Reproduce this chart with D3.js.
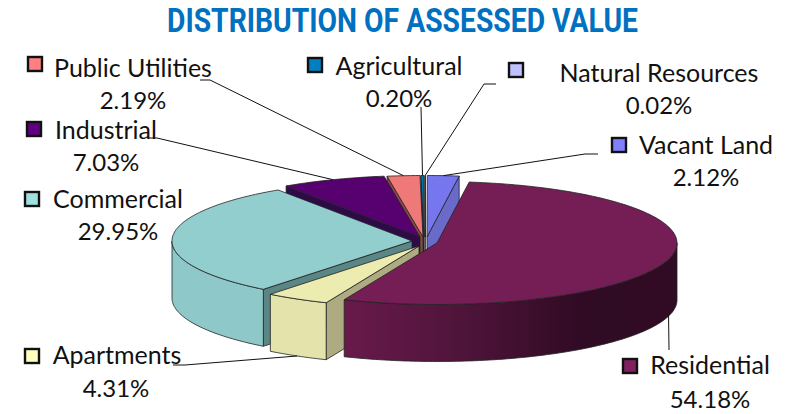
<!DOCTYPE html>
<html>
<head>
<meta charset="utf-8">
<script src="https://cdn.jsdelivr.net/npm/d3@7"></script>
<style>
  html, body { margin: 0; padding: 0; background: #fff; }
  svg { display: block; }
  .lbl { font-family: Lato, "Open Sans", sans-serif; fill: #111; text-anchor: middle; }
  .name { font-size: 25px; }
  .pct { font-size: 24px; }
</style>
</head>
<body>
<svg class="chart"></svg>
<script>
// slices clockwise from 12 o'clock
const categories = ["Natural Resources", "Vacant Land", "Residential", "Apartments", "Commercial", "Industrial", "Public Utilities", "Agricultural"];
const shares = [0.02, 2.12, 54.18, 4.31, 29.95, 7.03, 2.19, 0.20];
const shareLabels = ["0.02%", "2.12%", "54.18%", "4.31%", "29.95%", "7.03%", "2.19%", "0.20%"];

const width = 801, height = 414;
const cx = 424, cy = 240, rx = 240, ry = 61.5, depth = 57;

// explosion of each slice from the pie centre, px
const explode = {
    "Natural Resources": [1, -3], "Vacant Land": [3, -3], "Residential": [13, 3], "Apartments": [-5, 6],
    "Commercial": [-12, 1], "Industrial": [-4, -3], "Public Utilities": [-1, -3], "Agricultural": [0, -3]
};
const legendColor = {
    "Natural Resources": "#c0c0ff", "Vacant Land": "#8080ff", "Residential": "#802060", "Apartments": "#ffffc0",
    "Commercial": "#a0e0e0", "Industrial": "#600080", "Public Utilities": "#ff8080", "Agricultural": "#0080c0"
};
const topColor = {
    "Natural Resources": "#b0b0ee", "Vacant Land": "#7676ee", "Residential": "#751d55", "Apartments": "#edecb0",
    "Commercial": "#93cece", "Industrial": "#570070", "Public Utilities": "#ef7878", "Agricultural": "#0074ae"
};
const wallColor = {
    "Natural Resources": "#8080b0", "Vacant Land": "#6a6ad0", "Residential": "url(#resWall)", "Apartments": "#e4e3ab",
    "Commercial": "#8ec8c8", "Industrial": "#2e0a48", "Public Utilities": "#8c4a44", "Agricultural": "#00405f"
};
const cutColor = {
    "Natural Resources": "#404060", "Vacant Land": "#6a6acb", "Residential": "#4a1236", "Apartments": "#aeab82",
    "Commercial": "#5a8686", "Industrial": "#2e0a48", "Public Utilities": "#8c4a44", "Agricultural": "#00405f"
};
// back slices first, each one hides the cut wall of the slice before it
const drawOrder = ["Natural Resources", "Agricultural", "Public Utilities", "Industrial", "Vacant Land", "Commercial", "Apartments", "Residential"];

// label centres, baselines, swatch corner, leader start
const labelPos = {
    "Public Utilities": { nx: 133, ny: 77, px: 133, py: 109, sx: 28, sy: 57, elbow: [[200, 80], [210, 80]] },
    "Agricultural": { nx: 399, ny: 75, px: 399, py: 107, sx: 308, sy: 58, elbow: [[421, 107]] },
    "Natural Resources": { nx: 659, ny: 82, px: 659, py: 114, sx: 509, sy: 63, elbow: [[496, 84], [484, 84]] },
    "Vacant Land": { nx: 706, ny: 154, px: 706, py: 186, sx: 612, sy: 138, elbow: [[598, 154], [585, 154]] },
    "Industrial": { nx: 106, ny: 139, px: 106, py: 171, sx: 27, sy: 122, elbow: [[147, 138], [157, 138]] },
    "Commercial": { nx: 118, ny: 208, px: 118, py: 240, sx: 25, sy: 192, elbow: null },
    "Apartments": { nx: 117, ny: 364, px: 116, py: 397, sx: 25, sy: 349, elbow: [[173, 365], [185, 365]] },
    "Residential": { nx: 710, ny: 374, px: 710, py: 408, sx: 623, sy: 359, elbow: [[669, 350]] }
};

const svg = d3.select(".chart")
    .attr("width", width)
    .attr("height", height);

const grad = svg.append("defs").append("linearGradient")
    .attr("id", "resWall")
    .attr("gradientUnits", "userSpaceOnUse")
    .attr("x1", 345).attr("x2", 677).attr("y1", 0).attr("y2", 0);
grad.append("stop").attr("offset", 0).attr("stop-color", "#681a4b");
grad.append("stop").attr("offset", 0.35).attr("stop-color", "#4f143a");
grad.append("stop").attr("offset", 0.7).attr("stop-color", "#310b25");
grad.append("stop").attr("offset", 1).attr("stop-color", "#300b23");

const pie = d3.pie().sort(null).startAngle(0).endAngle(2 * Math.PI);
const slices = pie(shares).map((s, i) => ({ ...s, name: categories[i], pct: shareLabels[i] }));
const byName = new Map(slices.map(s => [s.name, s]));

// screen position of a pie point: angle clockwise from top, z = drop below the top face
function project(name, angle, r = 1, z = 0) {
    const [dx, dy] = explode[name];
    return [cx + dx + r * rx * Math.sin(angle), cy + dy - r * ry * Math.cos(angle) + z];
}

const line = d3.line();
const steps = (a0, a1) => {
    const n = Math.max(2, Math.ceil(Math.abs(a1 - a0) / 0.02));
    return d3.range(n + 1).map(i => a0 + (a1 - a0) * i / n);
};

function cutPath(name, angle) {
    return line([project(name, angle, 0), project(name, angle), project(name, angle, 1, depth), project(name, angle, 0, depth)]) + "Z";
}

const pieG = svg.append("g").attr("class", "pie");

drawOrder.forEach(name => {
    const s = byName.get(name);
    const a0 = s.startAngle, a1 = s.endAngle;
    const g = pieG.append("g").attr("stroke", "#222").attr("stroke-width", 0.8).attr("stroke-linejoin", "round");

    if (Math.sin(a0) < 0) g.append("path").attr("d", cutPath(name, a0)).attr("fill", cutColor[name]);
    if (Math.sin(a1) > 0) g.append("path").attr("d", cutPath(name, a1)).attr("fill", cutColor[name]);

    // outer wall, front half only
    const w0 = Math.max(a0, Math.PI / 2), w1 = Math.min(a1, 3 * Math.PI / 2);
    if (w1 > w0) {
        const arcAngles = steps(w0, w1);
        const pts = arcAngles.map(a => project(name, a)).concat(arcAngles.slice().reverse().map(a => project(name, a, 1, depth)));
        g.append("path").attr("d", line(pts) + "Z").attr("fill", wallColor[name]);
    }

    const topPts = [project(name, a0, 0)].concat(steps(a0, a1).map(a => project(name, a)));
    g.append("path").attr("d", line(topPts) + "Z").attr("fill", topColor[name]);
});

// leaders run from the middle of each slice's rim
const leaderG = svg.append("g").attr("fill", "none").attr("stroke", "#111").attr("stroke-width", 1);
slices.forEach(s => {
    const pos = labelPos[s.name];
    if (!pos.elbow) return;
    const mid = (s.startAngle + s.endAngle) / 2;
    const front = Math.cos(mid) < 0;
    const end = project(s.name, mid, 1, front ? depth : 0);
    leaderG.append("path").attr("d", line(pos.elbow.concat([end])));
});

svg.append("text")
    .attr("x", 167).attr("y", 32)
    .attr("textLength", 471)
    .attr("lengthAdjust", "spacingAndGlyphs")
    .attr("font-family", "Roboto, sans-serif")
    .attr("font-weight", 700)
    .attr("font-size", 33)
    .attr("fill", "#0070c0")
    .text("DISTRIBUTION OF ASSESSED VALUE");

const labelG = svg.append("g");
slices.forEach(s => {
    const pos = labelPos[s.name];
    labelG.append("rect")
        .attr("x", pos.sx).attr("y", pos.sy)
        .attr("width", 14).attr("height", 14)
        .attr("fill", legendColor[s.name])
        .attr("stroke", "#111").attr("stroke-width", 2.4);
    labelG.append("text").attr("class", "lbl name").attr("x", pos.nx).attr("y", pos.ny).text(s.name);
    labelG.append("text").attr("class", "lbl pct").attr("x", pos.px).attr("y", pos.py).text(s.pct);
});
</script>
</body>
</html>
